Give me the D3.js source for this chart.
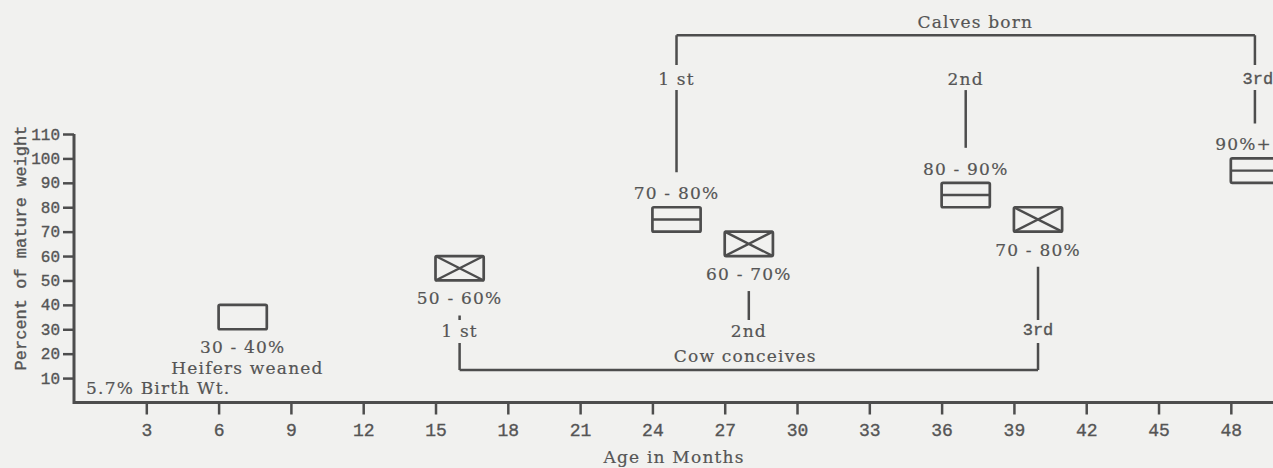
<!DOCTYPE html>
<html>
    <head>
        <meta charset="utf-8">
        <title>Heifer development</title>
        <style>
body {
    margin: 0;
    background-color: #f1f1ef;
}

svg {
    display: block;
    background-color: #f1f1ef;
}

.serif {
    font-family: "DejaVu Serif", serif;
    font-size: 17px;
    letter-spacing: 1.2px;
    fill: #555;
    stroke: #555;
    stroke-width: 0.2px;
}

.mono {
    font-family: "Liberation Mono", monospace;
    fill: #555;
    stroke: #555;
    stroke-width: 0.35px;
}

.ink {
    stroke: #4d4d4d;
    fill: none;
}
</style>
        <script src="https://cdn.jsdelivr.net/npm/d3@7/dist/d3.min.js"></script>
    </head>
    <body>
        <script>
// stages (months, percent of mature weight)
var stage = ["weaned", "conceive1", "calve1", "conceive2", "calve2", "conceive3", "calve3"];
var startMonth = [6, 15, 24, 27, 36, 39, 48];
var endMonth = [8, 17, 26, 29, 38, 41, 50];
var lowPct = [30, 50, 70, 60, 80, 70, 90];
var highPct = [40, 60, 80, 70, 90, 80, 100];
var boxKind = ["plain", "cross", "split", "cross", "split", "cross", "split"];
var rangeLabel = ["30 - 40%", "50 - 60%", "70 - 80%", "60 - 70%", "80 - 90%", "70 - 80%", "90%+"];

var ordinals = ["1 st", "2nd", "3rd"];
var calvedAt = [25, 37, 49];
var conceivedAt = [16, 28, 40];
var joinsBracket = [true, false, true];

var birthWeightPct = 5.7;

var xTicks = [3, 6, 9, 12, 15, 18, 21, 24, 27, 30, 33, 36, 39, 42, 45, 48];
var yTicks = [10, 20, 30, 40, 50, 60, 70, 80, 90, 100, 110];

var width = 1273,
    height = 468;

var svg = d3.select('body')
    .append('svg')
    .attr('width', width)
    .attr('height', height);

var x = d3.scaleLinear().domain([0, 49.75]).range([74, 1273]);
var y = d3.scaleLinear().domain([0, 110]).range([402.5, 134]);

// axes
var yAxis = d3.axisLeft(y).tickValues(yTicks).tickSize(11).tickSizeOuter(0).tickPadding(3);
var gy = svg.append('g').attr('transform', 'translate(' + x(0) + ',0)').call(yAxis);
gy.select('.domain').remove();
gy.selectAll('.tick line').attr('stroke', '#4d4d4d').attr('stroke-width', 2.5);
gy.selectAll('.tick text')
    .attr('class', 'mono')
    .style('font-size', '16px');

var xAxis = d3.axisBottom(x).tickValues(xTicks).tickSize(12).tickSizeOuter(0).tickPadding(9);
var gx = svg.append('g').attr('transform', 'translate(0,' + y(0) + ')').call(xAxis);
gx.select('.domain').remove();
gx.selectAll('.tick line').attr('stroke', '#4d4d4d').attr('stroke-width', 2.5);
gx.selectAll('.tick text')
    .attr('class', 'mono')
    .style('font-size', '18px');

svg.append('path')
    .attr('class', 'ink')
    .attr('stroke-width', 3)
    .attr('d', 'M' + x(0) + ',' + y(110) + 'V' + y(0) + 'H' + width);

svg.append('text')
    .attr('class', 'mono')
    .style('font-size', '17px')
    .attr('text-anchor', 'middle')
    .attr('transform', 'translate(21,248) rotate(-90)')
    .attr('dominant-baseline', 'central')
    .text('Percent of mature weight');

svg.append('text')
    .attr('class', 'serif')
    .attr('text-anchor', 'middle')
    .attr('x', x(24.9))
    .attr('y', 457)
    .attr('dominant-baseline', 'central')
    .text('Age in Months');

// boxes
var boxes = svg.selectAll('g.box')
    .data(stage)
    .enter()
    .append('g')
    .attr('class', 'box');

boxes.each(function (d, i) {
    var g = d3.select(this);
    var x0 = x(startMonth[i]), x1 = x(endMonth[i]);
    var y0 = y(highPct[i]), y1 = y(lowPct[i]);
    g.append('rect')
        .attr('class', 'ink')
        .attr('stroke-width', 2.7)
        .attr('rx', 1.5)
        .attr('x', x0).attr('y', y0)
        .attr('width', x1 - x0).attr('height', y1 - y0);
    if (boxKind[i] === 'cross') {
        g.append('path')
            .attr('class', 'ink')
            .attr('stroke-width', 2.4)
            .attr('d', 'M' + x0 + ',' + y0 + 'L' + x1 + ',' + y1 + 'M' + x0 + ',' + y1 + 'L' + x1 + ',' + y0);
    }
    if (boxKind[i] === 'split') {
        var ym = y((lowPct[i] + highPct[i]) / 2);
        g.append('path')
            .attr('class', 'ink')
            .attr('stroke-width', 2.4)
            .attr('d', 'M' + x0 + ',' + ym + 'H' + x1);
    }
    var above = boxKind[i] === 'split';
    var t = g.append('text')
        .attr('class', 'serif')
        .attr('text-anchor', 'middle')
        .attr('dominant-baseline', 'central')
        .attr('x', (x0 + x1) / 2)
        .attr('y', above ? y0 - 14 : y1 + 18)
        .text(rangeLabel[i]);
    // keep the label inside the page
    var bb = t.node().getBBox();
    if (bb.x + bb.width > width - 1) {
        t.attr('x', (x0 + x1) / 2 - (bb.x + bb.width - width + 1));
    }
});

svg.append('text')
    .attr('class', 'serif')
    .attr('text-anchor', 'middle')
    .attr('dominant-baseline', 'central')
    .attr('x', x(7.2))
    .attr('y', y(14))
    .text('Heifers weaned');

svg.append('text')
    .attr('class', 'serif')
    .attr('dominant-baseline', 'central')
    .attr('x', x(0.5))
    .attr('y', y(6))
    .text(birthWeightPct + '% Birth Wt.');

// calves born bracket
var topY = y(150.5), calfLabelY = y(132.5);
svg.append('path')
    .attr('class', 'ink')
    .attr('stroke-width', 2.5)
    .attr('d', 'M' + x(calvedAt[0]) + ',' + topY + 'H' + x(calvedAt[2]));
svg.append('text')
    .attr('class', 'serif')
    .attr('text-anchor', 'middle')
    .attr('dominant-baseline', 'central')
    .attr('x', x(37.4))
    .attr('y', y(156))
    .text('Calves born');

var calfBoxes = d3.range(stage.length).filter(function (i) { return boxKind[i] === 'split'; });
calvedAt.forEach(function (m, k) {
    var cx = x(m);
    var boxTop = y(highPct[calfBoxes[k]]);
    var d = 'M' + cx + ',' + (calfLabelY + 11) + 'V' + (boxTop - 35);
    if (joinsBracket[k]) d += 'M' + cx + ',' + topY + 'V' + (calfLabelY - 14);
    svg.append('path').attr('class', 'ink').attr('stroke-width', 2.5).attr('d', d);
    svg.append('text')
        .attr('class', k === 2 ? 'mono' : 'serif')
        .style('font-size', k === 2 ? '17px' : null)
        .attr('text-anchor', 'middle')
        .attr('dominant-baseline', 'central')
        .attr('x', cx + (k === 2 ? 3 : 0))
        .attr('y', calfLabelY)
        .text(ordinals[k]);
});

// cow conceives bracket
var botY = y(13.3), concLabelY = y(29.3);
svg.append('path')
    .attr('class', 'ink')
    .attr('stroke-width', 2.5)
    .attr('d', 'M' + x(conceivedAt[0]) + ',' + botY + 'H' + x(conceivedAt[2]));
svg.append('text')
    .attr('class', 'serif')
    .attr('text-anchor', 'middle')
    .attr('dominant-baseline', 'central')
    .attr('x', x(27.85))
    .attr('y', y(19))
    .text('Cow conceives');

var concBoxes = d3.range(stage.length).filter(function (i) { return boxKind[i] === 'cross'; });
conceivedAt.forEach(function (m, k) {
    var cx = x(m);
    var boxBottom = y(lowPct[concBoxes[k]]);
    var d = 'M' + cx + ',' + (boxBottom + 35) + 'V' + (concLabelY - 11);
    if (joinsBracket[k]) d += 'M' + cx + ',' + (concLabelY + 12) + 'V' + botY;
    svg.append('path').attr('class', 'ink').attr('stroke-width', 2.5).attr('d', d);
    svg.append('text')
        .attr('class', k === 2 ? 'mono' : 'serif')
        .style('font-size', k === 2 ? '17px' : null)
        .attr('text-anchor', 'middle')
        .attr('dominant-baseline', 'central')
        .attr('x', cx)
        .attr('y', concLabelY)
        .text(ordinals[k]);
});

        </script>
    </body>
</html>
